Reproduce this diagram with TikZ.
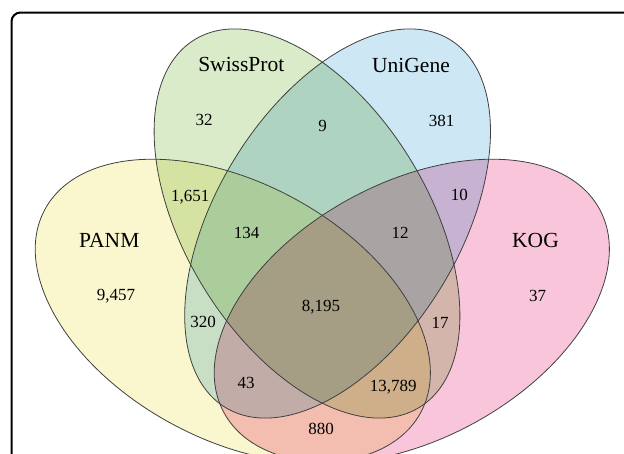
\documentclass[tikz,border=0pt]{standalone}
\usepackage{fontspec}
\setmainfont{Liberation Serif}
\usetikzlibrary{calc,positioning}

\definecolor{panmcol}{HTML}{FAF7CE}
\definecolor{swisscol}{HTML}{D9EBC9}
\definecolor{unicol}{HTML}{CDE7F5}
\definecolor{kogcol}{HTML}{F8C5DA}

\begin{document}
\begin{tikzpicture}[
		x=1pt, y=-1pt,
		% Styles
		setline/.style={draw=black!75, line width=0.8pt},
		setname/.style={anchor=base, font=\fontsize{21.5}{25}\selectfont},
		count/.style={anchor=base, font=\fontsize{17}{20}\selectfont},
		frame/.style={draw=black, line width=2pt, rounded corners=9pt}
	]

	% --- Parameters (pixel units, y downwards) ---
	\def\outA{213.6}   % major semi axis, outer sets
	\def\outB{128.2}   % minor semi axis, outer sets
	\def\outRot{28.4}  % tilt outer sets
	\def\inA{215.5}    % major semi axis, inner sets
	\def\inB{121.6}    % minor semi axis, inner sets
	\def\inRot{58.6}   % tilt inner sets

	% --- Centres ---
	\coordinate (PanmC)  at (232.8, 311.0);
	\coordinate (SwissC) at (307.0, 223.5);
	\coordinate (UniC)   at (337.6, 223.5);
	\coordinate (KogC)   at (411.8, 311.0);

	\useasboundingbox (0,0) rectangle (624,453);
	\clip (0,0) rectangle (624,453);

	% --- 1. FILLS (multiplied where they overlap) ---
	\begin{scope}[blend group=multiply]
		\fill[panmcol, rotate around={-\outRot:(PanmC)}] (PanmC) ellipse [x radius=\outA, y radius=\outB];
		\fill[swisscol, rotate around={-\inRot:(SwissC)}] (SwissC) ellipse [x radius=\inA, y radius=\inB];
		\fill[unicol, rotate around={\inRot:(UniC)}] (UniC) ellipse [x radius=\inA, y radius=\inB];
		\fill[kogcol, rotate around={\outRot:(KogC)}] (KogC) ellipse [x radius=\outA, y radius=\outB];
	\end{scope}

	% --- 2. OUTLINES ---
	\draw[setline, rotate around={-\outRot:(PanmC)}] (PanmC) ellipse [x radius=\outA, y radius=\outB];
	\draw[setline, rotate around={-\inRot:(SwissC)}] (SwissC) ellipse [x radius=\inA, y radius=\inB];
	\draw[setline, rotate around={\inRot:(UniC)}] (UniC) ellipse [x radius=\inA, y radius=\inB];
	\draw[setline, rotate around={\outRot:(KogC)}] (KogC) ellipse [x radius=\outA, y radius=\outB];

	% --- 3. SET NAMES ---
	\node[setname] (panm)  at (109.3, 247.3) {PANM};
	\node[setname] (swiss) at (241.3, 71.7)  {SwissProt};
	\node[setname] (uni)   at (411.0, 72.0)  {UniGene};
	\node[setname] (kog)   at (535.5, 247.3) {KOG};

	% --- 4. COUNTS ---
	\node[count] (nSwiss)    at (204.0, 125.0) {32};
	\node[count] (nSU)       at (322.7, 131.0) {9};
	\node[count] (nUni)      at (441.7, 126.0) {381};
	\node[count] (nPS)       at (190.3, 201.7) {1,651};
	\node[count] (nUK)       at (459.4, 200.0) {10};
	\node[count] (nPSU)      at (246.7, 238.3) {134};
	\node[count] (nSUK)      at (400.0, 238.0) {12};
	\node[count] (nPanm)     at (116.0, 300.0) {9,457};
	\node[count] (nKog)      at (537.7, 301.3) {37};
	\node[count] (nAll)      at (321.0, 311.7) {8,195};
	\node[count] (nPU)       at (203.0, 327.7) {320};
	\node[count] (nSK)       at (440.0, 328.0) {17};
	\node[count] (nPUK)      at (246.0, 388.3) {43};
	\node[count] (nPSK)      at (393.3, 391.5) {13,789};
	\node[count] (nPK)       at (321.0, 434.0) {880};

	% --- 5. FRAME ---
	\draw[frame] (11.5, 12.5) rectangle (680, 500);

\end{tikzpicture}
\end{document}
